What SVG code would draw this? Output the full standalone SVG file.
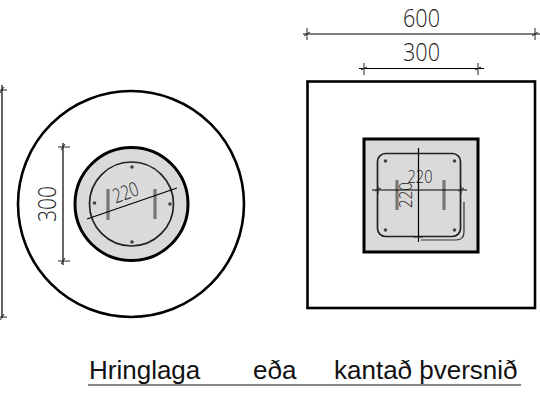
<svg xmlns="http://www.w3.org/2000/svg" width="540" height="397" viewBox="0 0 540 397">
<defs><style>
.o{fill:none;stroke:#000;stroke-width:2.6}
.g{fill:#dadada;stroke:#000;stroke-width:3}
.r{fill:none;stroke:#222;stroke-width:1.7}
.d{stroke:#000;stroke-width:1.2;fill:none}
.t{stroke:#222;stroke-width:1;fill:none}
.b{stroke:#777;stroke-width:3.2;fill:none}
.p{fill:#444}
text{font-family:"Open Sans","DejaVu Sans",sans-serif;font-weight:300;fill:#222;text-anchor:middle}
.c{font-family:"Liberation Sans",Arial,sans-serif;font-weight:400;font-size:26px;fill:#111;text-anchor:start}
</style></defs>
<rect width="540" height="397" fill="#fff"/>
<g id="round-section">
<circle class="o" cx="131" cy="204" r="113"/>
<circle class="g" cx="131.5" cy="204" r="56.5"/>
<circle class="r" cx="131.5" cy="204" r="42"/>
<path class="b" d="M108 189V220M155 189V219"/>
<circle class="p" cx="132" cy="167" r="1.8"/><circle class="p" cx="94.5" cy="203" r="1.8"/><circle class="p" cx="170" cy="204" r="1.8"/><circle class="p" cx="132" cy="242" r="1.8"/>
<text transform="translate(128 199) rotate(-20)" font-size="20" textLength="26" lengthAdjust="spacingAndGlyphs">220</text>
<text transform="translate(56 204) rotate(-90)" font-size="25" textLength="36" lengthAdjust="spacingAndGlyphs">300</text>
</g>
<g id="square-section">
<rect class="o" x="307.5" y="81.5" width="227.5" height="226.5"/>
<rect class="g" x="364" y="139" width="114" height="113"/>
<rect class="r" x="377.5" y="153.5" width="83" height="83" rx="8"/>
<path class="b" d="M397 180V210M444 180V210"/>
<circle class="p" cx="385.5" cy="161" r="1.8"/><circle class="p" cx="454.5" cy="161" r="1.8"/><circle class="p" cx="385.5" cy="230" r="1.8"/><circle class="p" cx="454.5" cy="230" r="1.8"/>
<path d="M464 202V232Q464 240 456 240H421" fill="none" stroke="#333" stroke-width="1.2"/>
<text x="420" y="183" font-size="19" textLength="25" lengthAdjust="spacingAndGlyphs">220</text>
<text transform="translate(412 195) rotate(-90)" font-size="19" textLength="26" lengthAdjust="spacingAndGlyphs">220</text>
</g>
<g id="dimensions">
<path class="d" d="M2 85V318"/><path class="t" d="M-3 90H7M-3 317H7M0 93L4 87M0 320L4 314"/>
<path class="d" d="M63 143V265"/><path class="t" d="M58 147H70M58 261H70M61 150L65 144M61 264L65 258"/>
<path class="d" d="M87 219L177 188"/>
<path class="d" d="M303 34H540"/><path class="t" d="M307 28V40M535 28V40M304 36L310 32M532 36L538 32"/>
<path class="d" d="M359 68.5H484"/><path class="t" d="M364 63V75M478 63V75M361 70L367 67M475 70L481 67"/>
<path class="d" d="M372 190H467"/><path class="t" d="M378 186V194M461 186V194M375 191L381 188M458 191L464 188"/>
<path class="d" d="M418.5 148V242"/><path class="t" d="M414 153.5H423M414 237H423"/>
</g>
<g id="labels">
<text x="421.5" y="27" font-size="25" textLength="37" lengthAdjust="spacingAndGlyphs">600</text>
<text x="421.5" y="61" font-size="25" textLength="37" lengthAdjust="spacingAndGlyphs">300</text>
<text class="c" x="89" y="379">Hringlaga</text>
<text class="c" x="253" y="379">eða</text>
<text class="c" x="334" y="379">kantað þversnið</text>
<path d="M88 385H521" stroke="#111" stroke-width="1.2"/>
</g>
</svg>
